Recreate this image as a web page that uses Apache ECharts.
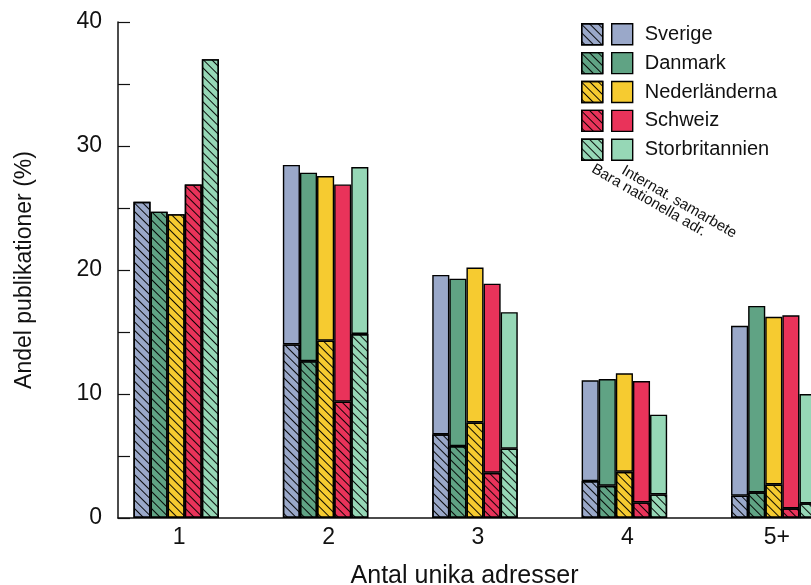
<!DOCTYPE html>
<html>
<head>
<meta charset="utf-8">
<script src="https://cdn.jsdelivr.net/npm/echarts@6/dist/echarts.min.js"></script>
<style>html,body{margin:0;padding:0;background:#fff}#c{width:811px;height:585px}</style>
</head>
<body>
<div id="c"></div>
<script>
// ---- data ----
const categoryLabels = ['1', '2', '3', '4', '5+'];
const countries = ['Sverige', 'Danmark', 'Nederländerna', 'Schweiz', 'Storbritannien'];
const colors = ['#9aa8c9', '#60a384', '#f6cb30', '#e9335a', '#96d7b6'];
const yTicks = [0, 10, 20, 30, 40];
// "Bara nationella adr." (hatched part)
const sverigeNational = [25.5, 14.0, 6.75, 2.98, 1.8];
const danmarkNational = [24.7, 12.65, 5.8, 2.6, 2.07];
const nederlanderNational = [24.5, 14.3, 7.7, 3.73, 2.7];
const schweizNational = [26.9, 9.38, 3.65, 1.26, 0.78];
const storbritNational = [37.0, 14.84, 5.6, 1.9, 1.18];
// total height of each bar (national + internat. samarbete)
const sverigeTotal = [25.5, 28.47, 19.6, 11.1, 15.5];
const danmarkTotal = [24.7, 27.85, 19.3, 11.2, 17.1];
const nederlanderTotal = [24.5, 27.58, 20.2, 11.67, 16.23];
const schweizTotal = [26.9, 26.9, 18.9, 11.05, 16.35];
const storbritTotal = [37.0, 28.3, 16.6, 8.33, 10.0];

const nationalArr = [sverigeNational, danmarkNational, nederlanderNational, schweizNational, storbritNational];
const totalArr = [sverigeTotal, danmarkTotal, nederlanderTotal, schweizTotal, storbritTotal];

const FONT = 'Liberation Sans, Arial, sans-serif';
const hatch = {
  symbol: 'rect', symbolSize: 1, dashArrayX: [1, 0], dashArrayY: [1, 4.8],
  rotation: Math.PI / 4, color: 'rgba(0,0,0,0.95)'
};

const series = [];
countries.forEach((name, i) => {
  series.push({
    name: name + ' (nationella)', type: 'bar', stack: 's' + i,
    xAxisIndex: 0, yAxisIndex: 0,
    barWidth: 17.1, barGap: '0%',
    itemStyle: { color: colors[i], borderColor: '#000', borderWidth: 1.4, decal: hatch },
    emphasis: { disabled: true },
    data: nationalArr[i].slice()
  });
  series.push({
    name: name, type: 'bar', stack: 's' + i,
    xAxisIndex: 0, yAxisIndex: 0,
    barWidth: 17.1, barGap: '0%',
    itemStyle: { color: colors[i], borderColor: '#000', borderWidth: 1.4 },
    emphasis: { disabled: true },
    data: totalArr[i].map((t, k) => {
      const d = +(t - nationalArr[i][k]).toFixed(2);
      return d > 0 ? d : '-';
    })
  });
});

const chart = echarts.init(document.getElementById('c'), null, { renderer: 'canvas' });
chart.setOption({
  animation: false,
  textStyle: { fontFamily: FONT },
  grid: [
    { left: 101.5, width: 747, top: 22, bottom: 67, containLabel: false, outerBoundsMode: 'none' },
    { left: 118, right: 0, top: 22, bottom: 67, containLabel: false, outerBoundsMode: 'none' }
  ],
  xAxis: [
    {
      type: 'category', gridIndex: 0, data: categoryLabels,
      axisLine: { show: false }, axisTick: { show: false }, splitLine: { show: false },
      axisLabel: { fontSize: 23, color: '#111', margin: 8, padding: [0, 0, 0, 6], fontFamily: FONT }
    },
    {
      type: 'value', gridIndex: 1, min: 0, max: 1,
      name: 'Antal unika adresser', nameLocation: 'middle', nameGap: 46,
      nameTextStyle: { fontSize: 25, color: '#111', fontFamily: FONT },
      axisLine: { show: true, lineStyle: { color: '#111', width: 1.5 } },
      axisTick: { show: false }, axisLabel: { show: false }, splitLine: { show: false }
    }
  ],
  yAxis: [
    { type: 'value', gridIndex: 0, min: 0, max: 40, show: false, splitLine: { show: false } },
    {
      type: 'value', gridIndex: 1, min: 0, max: 40, interval: 5,
      name: 'Andel publikationer (%)', nameLocation: 'middle', nameGap: 82, nameRotate: 90,
      nameTextStyle: { fontSize: 23, color: '#111', fontFamily: FONT },
      axisLine: { show: true, lineStyle: { color: '#111', width: 1.5 } },
      axisTick: { show: true, inside: true, length: 12, lineStyle: { color: '#111', width: 1.2 } },
      splitLine: { show: false },
      axisLabel: {
        fontSize: 23, color: '#111', margin: 16, fontFamily: FONT,
        formatter: v => yTicks.indexOf(v) >= 0 ? String(v) : ''
      }
    }
  ],
  legend: [
    {
      orient: 'vertical', left: 581, top: 23, padding: 0, icon: 'rect',
      itemWidth: 21, itemHeight: 21, itemGap: 6.5, selectedMode: false,
      itemStyle: { borderColor: '#000', borderWidth: 1.4 },
      data: countries.map(n => n + ' (nationella)'),
      formatter: () => '', textStyle: { fontSize: 1 }
    },
    {
      orient: 'vertical', left: 611, top: 23, padding: 0, icon: 'rect',
      itemWidth: 21, itemHeight: 21, itemGap: 6.5, selectedMode: false,
      itemStyle: { borderColor: '#000', borderWidth: 1.4 },
      data: countries.slice(),
      textStyle: { fontSize: 20, color: '#111', fontFamily: FONT, padding: [0, 0, 0, 7] }
    }
  ],
  graphic: [
    {
      type: 'text', x: 619, y: 176, rotation: -30 * Math.PI / 180,
      style: { text: 'Internat. samarbete', font: '15px ' + FONT, fill: '#111', align: 'left', verticalAlign: 'bottom' }
    },
    {
      type: 'text', x: 589, y: 174.5, rotation: -30 * Math.PI / 180,
      style: { text: 'Bara nationella adr.', font: '15px ' + FONT, fill: '#111', align: 'left', verticalAlign: 'bottom' }
    }
  ],
  series: series
});
</script>
</body>
</html>
